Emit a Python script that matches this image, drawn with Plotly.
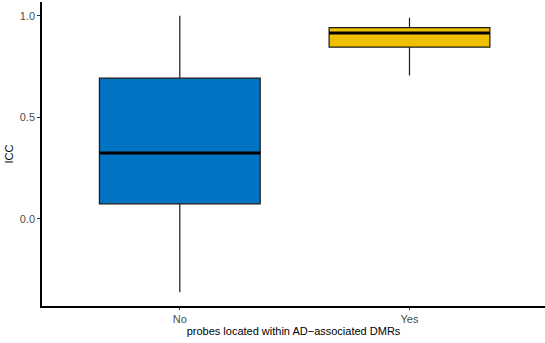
import plotly.graph_objects as go

# ICC summary statistics per group
groups = ["No", "Yes"]
group_pos = [1, 2]
q1 = [0.074, 0.846]
median = [0.324, 0.915]
q3 = [0.693, 0.942]
lower_fence = [-0.361, 0.706]
upper_fence = [1.0, 0.99]
fill_colors = ["#0073C2", "#EFC000"]

box_width = 0.7

fig = go.Figure()

for i, g in enumerate(groups):
    fig.add_trace(go.Box(
        x=[group_pos[i]],
        q1=[q1[i]], median=[median[i]], q3=[q3[i]],
        lowerfence=[lower_fence[i]], upperfence=[upper_fence[i]],
        width=box_width,
        whiskerwidth=0,
        fillcolor=fill_colors[i],
        line=dict(color="#1a1a1a", width=1.2),
        boxpoints=False,
        name=g,
        hoverinfo="skip",
    ))
    # thicker median bar
    fig.add_trace(go.Scatter(
        x=[group_pos[i] - box_width / 2, group_pos[i] + box_width / 2],
        y=[median[i], median[i]],
        mode="lines",
        line=dict(color="black", width=3),
        hoverinfo="skip",
        showlegend=False,
    ))

font_family = "Liberation Sans, Arial, sans-serif"

fig.update_layout(
    width=545, height=343,
    margin=dict(l=42, r=0, t=2, b=37),
    plot_bgcolor="white", paper_bgcolor="white",
    showlegend=False,
    font=dict(family=font_family, size=11, color="#4D4D4D"),
    xaxis=dict(
        range=[0.4, 2.59],
        tickvals=group_pos, ticktext=groups,
        showline=True, linecolor="black", linewidth=1.6,
        ticks="outside", ticklen=2, tickcolor="#333333", tickwidth=1,
        showgrid=False, zeroline=False,
        tickfont=dict(size=11, color="#4D4D4D"),
        title=dict(text="probes located within AD\u2212associated DMRs",
                   font=dict(size=11, color="black"), standoff=0),
    ),
    yaxis=dict(
        range=[-0.429, 1.068],
        tickvals=[0.0, 0.5, 1.0], ticktext=["0.0", "0.5", "1.0"],
        showline=True, linecolor="black", linewidth=1.6,
        ticks="outside", ticklen=3, tickcolor="#333333", tickwidth=1,
        showgrid=False, zeroline=False,
        tickfont=dict(size=11, color="#4D4D4D"),
        title=dict(text="ICC", font=dict(size=11, color="black"), standoff=4),
    ),
)

fig.write_html("out.html")
